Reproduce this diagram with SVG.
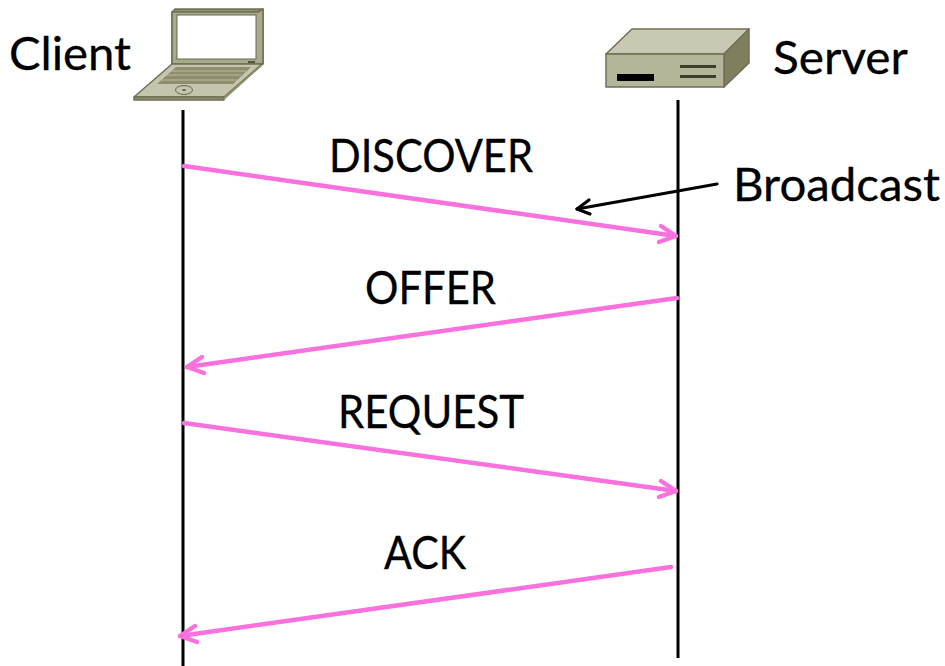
<svg xmlns="http://www.w3.org/2000/svg" width="945" height="666" viewBox="0 0 945 666">
<style>
text{font-family:"Lato","Carlito","Liberation Sans",sans-serif;font-size:47px;fill:#000;stroke:#000;stroke-width:0.3}
.life{stroke:#000;stroke-width:3;fill:none}
.msg{stroke:#f871dc;stroke-width:4.500;fill:none;stroke-linecap:round}
.ah{stroke:#f871dc;stroke-width:4.500;fill:none;stroke-linecap:round;stroke-linejoin:round}
.bc{stroke:#000;stroke-width:3.200;fill:none;stroke-linecap:round;stroke-linejoin:round}
.ol{stroke:#6f6f55;stroke-width:1.500;stroke-linejoin:round}
</style>
<rect width="945" height="666" fill="#fff"/>
<g id="connectors">
<path class="life" d="M183 110V666"/>
<path class="life" d="M678 100V658"/>
<path class="msg" d="M184 166L676 236"/>
<path class="ah" d="M661 226L676 236L659 242"/>
<path class="msg" d="M677 298L187 367"/>
<path class="ah" d="M202 357L187 367L204 373"/>
<path class="msg" d="M184 423L676 491"/>
<path class="ah" d="M661 481L676 491L659 497"/>
<path class="msg" d="M671 567L180 636"/>
<path class="ah" d="M195 626L180 636L197 642"/>
<path class="bc" d="M717 184L577 209"/>
<path class="bc" d="M589 200L577 209L590 214"/>
</g>
<g id="client">
<path class="ol" fill="#8e8e6f" d="M172 64L172 12L175 9L263 9L263 64L258 68Z"/>
<path fill="#a9a98c" class="ol" d="M172 64V12H258L263 9V64Z"/>
<rect x="177" y="15" width="79" height="44" fill="#fff" stroke="#66664c" stroke-width="1"/>
<rect x="248" y="61" width="7" height="2" fill="#55553f"/>
<path class="ol" fill="#c5c5ae" d="M172 64L262 64L224 97L134 97Z"/>
<path class="ol" fill="#8f8f70" d="M134 97L224 97L224 100L134 100Z"/>
<path fill="#8f8f70" d="M224 97L262 64V66L224 100Z"/>
<path fill="#8e8e6c" d="M176 67L251 67L233 84L157 84Z"/>
<path d="M170 71H246M165 75H241M161 80H237" stroke="#c5c5ae" stroke-width="0.800" fill="none"/>
<ellipse cx="184" cy="90" rx="8.500" ry="4.500" fill="none" stroke="#66664c" stroke-width="1"/>
<ellipse cx="184" cy="90" rx="2" ry="1" fill="#66664c"/>
<text x="9" y="70" textLength="122" lengthAdjust="spacingAndGlyphs">Client</text>
</g>
<g id="server">
<path class="ol" fill="#c9c9b3" d="M632 29H749L724 54H606Z"/>
<path class="ol" fill="#7f7f60" d="M724 54L749 29V63L724 87Z"/>
<path class="ol" fill="#b5b59a" d="M606 54H724V87H606Z"/>
<rect x="617" y="74" width="37" height="7" fill="#000"/>
<rect x="680" y="65" width="36" height="3" fill="#3d3d2c"/>
<rect x="680" y="75" width="36" height="3" fill="#3d3d2c"/>
<text x="773" y="74" textLength="135" lengthAdjust="spacingAndGlyphs">Server</text>
</g>
<g id="labels">
<text x="329" y="172" textLength="204" lengthAdjust="spacingAndGlyphs">DISCOVER</text>
<text x="733" y="201" textLength="207" lengthAdjust="spacingAndGlyphs">Broadcast</text>
<text x="365" y="304" textLength="131" lengthAdjust="spacingAndGlyphs">OFFER</text>
<text x="338" y="428" textLength="186" lengthAdjust="spacingAndGlyphs">REQUEST</text>
<text x="384" y="569" textLength="82" lengthAdjust="spacingAndGlyphs">ACK</text>
</g>
</svg>
